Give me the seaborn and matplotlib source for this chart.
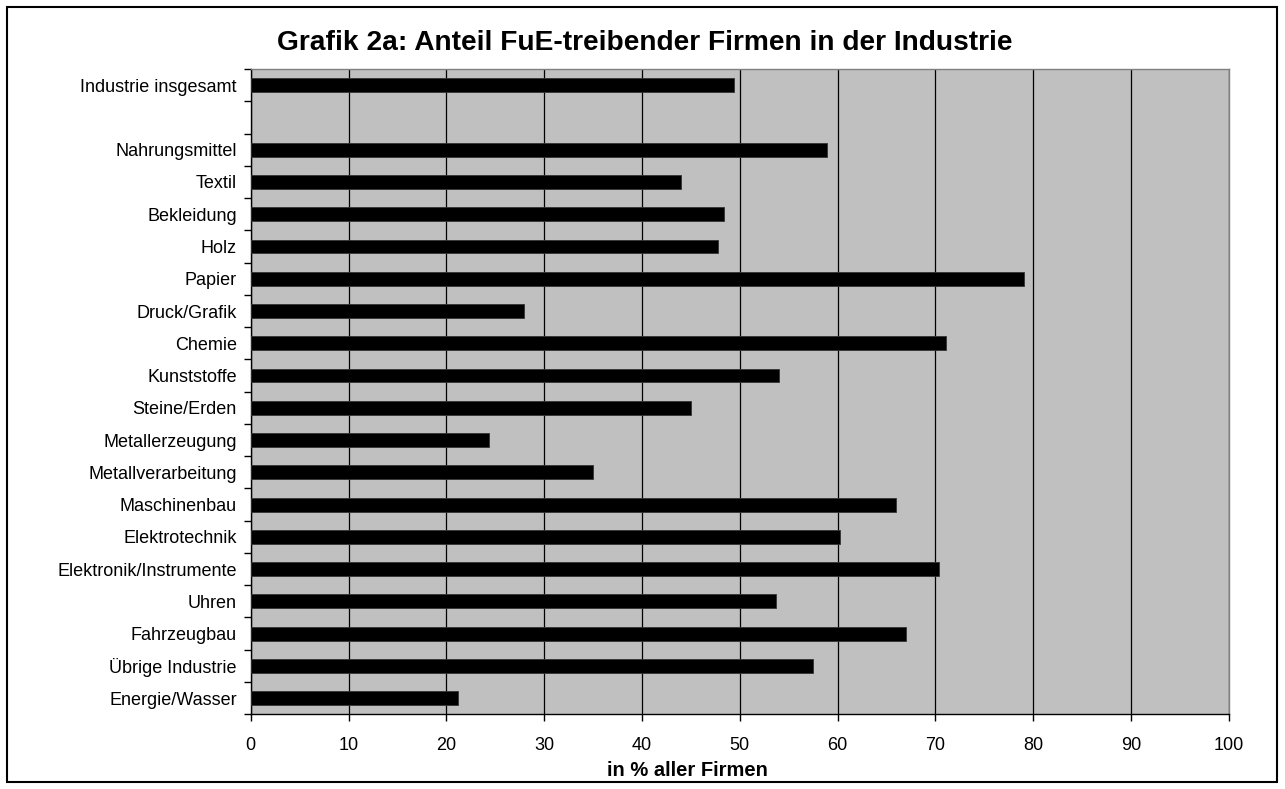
import matplotlib
matplotlib.use("Agg")
import matplotlib.pyplot as plt
from matplotlib.patches import Rectangle
import numpy as np
import pandas as pd
import seaborn as sns

# Sectors (top to bottom) and share of firms doing R&D, in %
sectors = [
    "Industrie insgesamt",
    "Nahrungsmittel", "Textil", "Bekleidung", "Holz", "Papier",
    "Druck/Grafik", "Chemie", "Kunststoffe", "Steine/Erden",
    "Metallerzeugung", "Metallverarbeitung", "Maschinenbau",
    "Elektrotechnik", "Elektronik/Instrumente", "Uhren",
    "Fahrzeugbau", "Übrige Industrie", "Energie/Wasser",
]
shares = [
    49.4,
    58.9, 44.0, 48.4, 47.8, 79.1,
    27.9, 71.1, 54.0, 45.0,
    24.4, 35.0, 66.0,
    60.3, 70.4, 53.7,
    67.0, 57.5, 21.2,
]
# empty row separating the total from the individual sectors
row_order = [sectors[0], " "] + sectors[1:]
x_ticks = list(range(0, 101, 10))

title = "Grafik 2a: Anteil FuE-treibender Firmen in der Industrie"
x_label = "in % aller Firmen"

df = pd.DataFrame({"Branche": sectors, "Anteil": shares})

sns.set_style("white")
plt.rcParams["font.family"] = ["Liberation Sans", "DejaVu Sans"]
plt.rcParams["text.color"] = "black"
plt.rcParams["axes.labelcolor"] = "black"
plt.rcParams["xtick.color"] = "black"
plt.rcParams["ytick.color"] = "black"

fig = plt.figure(figsize=(12.85, 7.89), dpi=100)
ax = fig.add_axes([0.1951, 0.0947, 0.9562 - 0.1951, 0.9125 - 0.0947])

sns.barplot(data=df, x="Anteil", y="Branche", order=row_order,
            color="black", width=0.43, orient="h", ax=ax,
            edgecolor="#333333", linewidth=0.6, zorder=3)

ax.set_facecolor("#C0C0C0")
ax.set_xlim(0, 100)
ax.set_ylim(len(row_order) - 0.5, -0.5)
ax.set_xticks(x_ticks)
ax.set_xticklabels([str(t) for t in x_ticks], fontsize=13)
ax.grid(axis="x", color="black", linewidth=0.9, zorder=1)
ax.set_axisbelow(True)

# category labels without ticks; short ticks on the row boundaries
ax.tick_params(axis="y", which="major", left=True, length=0, pad=10,
               labelsize=13, labelcolor="black")
ax.set_yticks(np.arange(len(row_order) + 1) - 0.5, minor=True)
ax.tick_params(axis="y", which="minor", left=True, length=5, width=1,
               color="black", direction="out")
ax.tick_params(axis="x", which="major", bottom=True, length=5, width=1,
               color="black", direction="out", pad=11, labelcolor="black")

ax.set_ylabel("")
ax.set_xlabel(x_label, fontsize=14.5, fontweight="bold", color="black")
ax.xaxis.set_label_coords(0.447, -0.0879)
ax.xaxis.label.set_verticalalignment("center")

for side in ["top", "right"]:
    ax.spines[side].set_color("#808080")
    ax.spines[side].set_linewidth(1)
for side in ["left", "bottom"]:
    ax.spines[side].set_color("black")
    ax.spines[side].set_linewidth(1)

fig.text(0.502, 0.946, title, ha="center", va="center",
         fontsize=20.25, fontweight="bold", color="black")

# outer frame around the whole chart
fig.patches.append(Rectangle((7 / 1285, 7 / 789), 1270 / 1285, 775 / 789,
                             transform=fig.transFigure, fill=False,
                             edgecolor="black", linewidth=1.5))

fig.savefig("out.png", dpi=100, facecolor="white")
